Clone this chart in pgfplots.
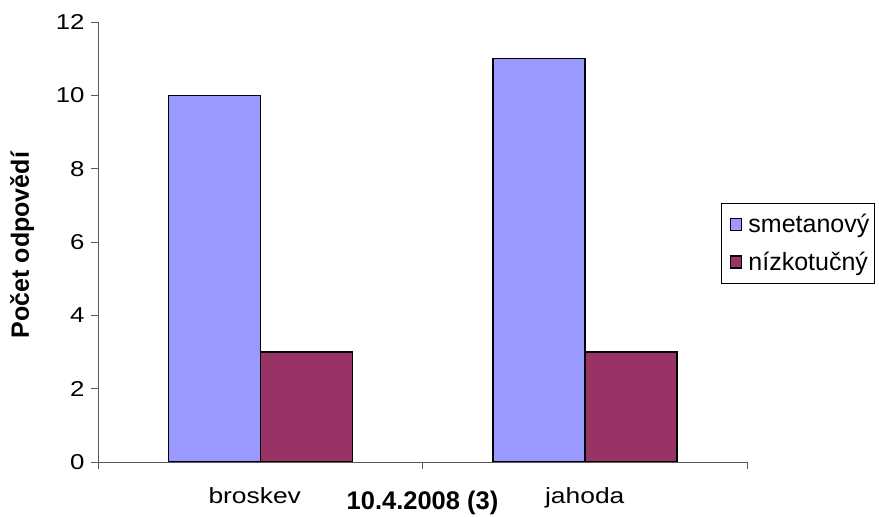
\documentclass[border=0pt]{standalone}
\usepackage{pgfplots}
\pgfplotsset{compat=1.18}
\usepackage{fontspec}
\setmainfont{Liberation Sans}
\newfontfamily\wide{Liberation Sans}[FakeStretch=1.2]
\definecolor{smet}{HTML}{9999FF}
\definecolor{nizk}{HTML}{993366}
\begin{document}
\begin{tikzpicture}[x=1pt,y=1pt]
\path[use as bounding box] (0,0) rectangle (879,517);
\begin{axis}[
  at={(98pt,55pt)}, anchor=south west,
  scale only axis, width=649pt, height=440pt,
  xmin=-0.5, xmax=1.5, ymin=0, ymax=12,
  axis lines*=left,
  axis line style={draw=black!65, line width=0.9pt},
  every tick/.style={draw=black!65, line width=0.9pt},
  tick align=outside, major tick length=7pt,
  ytick={0,2,4,6,8,10,12},
  yticklabel style={font=\wide\fontsize{21.5}{25}\selectfont, xshift=-3pt},
  /pgf/number format/assume math mode=true,
  xtick={-0.5,0.5,1.5}, xticklabels={},
  extra x ticks={-0.017,1},
  extra x tick labels={broskev,jahoda},
  extra x tick style={major tick length=0pt, tick label style={font=\wide\fontsize{22}{26}\selectfont, yshift=-22pt}},
  xlabel={\bfseries 10.4.2008 (3)},
  xlabel style={font=\fontsize{25.5}{30}\selectfont, at={(axis description cs:0.5,-0.109)}, anchor=base},
  ylabel={\bfseries Počet odpovědí},
  ylabel style={font=\fontsize{25}{29}\selectfont, at={(axis description cs:-0.117,0.493)}, anchor=center, rotate=0},
  legend style={at={(rel axis cs:0.96,0.5886)}, anchor=north west, draw=black, line width=0.8pt,
    font=\fontsize{25}{29}\selectfont, inner xsep=3pt, inner ysep=9pt, row sep=14pt},
  legend cell align=left,
  legend image code/.code={\draw[#1,draw=black,line width=1.6pt] (6pt,-6pt) rectangle (17pt,6pt); \path[draw=none,fill=none] (0pt,0pt) rectangle (22pt,0.1pt);},
]
\addplot[ybar, bar width=92pt, bar shift=-46pt, fill=smet, draw=black, line width=1.5pt]
  coordinates {(0,10) (1,11)};
\addlegendentry{smetanový}
\addplot[ybar, bar width=92pt, bar shift=46pt, fill=nizk, draw=black, line width=1.5pt]
  coordinates {(0,3) (1,3)};
\addlegendentry{nízkotučný}
\end{axis}
\end{tikzpicture}
\end{document}
